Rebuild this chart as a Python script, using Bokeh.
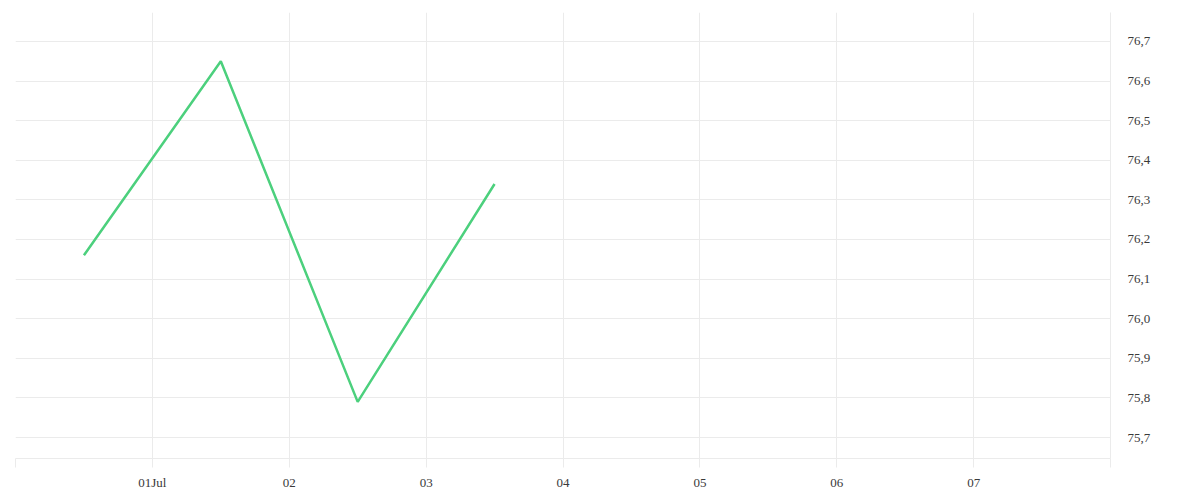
import pandas as pd
from bokeh.plotting import figure
from bokeh.models import FixedTicker, CustomJSTickFormatter, Range1d, LinearAxis
from bokeh.embed import file_html
from bokeh.resources import INLINE

# data
dates = ["2024-06-30 12:00", "2024-07-01 12:00", "2024-07-02 12:00", "2024-07-03 12:00"]
values = [76.16, 76.65, 75.79, 76.34]

x_tick_dates = ["2024-06-30", "2024-07-01", "2024-07-02", "2024-07-03", "2024-07-04",
                "2024-07-05", "2024-07-06", "2024-07-07", "2024-07-08"]
x_tick_labels = ["", "01Jul", "02", "03", "04", "05", "06", "07", ""]
y_ticks = [75.7, 75.8, 75.9, 76.0, 76.1, 76.2, 76.3, 76.4, 76.5, 76.6, 76.7]

x_start, x_end = "2024-06-30", "2024-07-08"
y_start, y_end = 75.647, 76.773

def ms(s):
    return pd.Timestamp(s).value / 1e6

xs = [ms(d) for d in dates]
xt = [ms(d) for d in x_tick_dates]

GRID = "#ebebeb"
FONT = "Liberation Serif"
TXT = "#3a3a3a"

p = figure(frame_width=1095, frame_height=446, x_axis_type="datetime",
           output_backend="svg", toolbar_location=None, y_axis_location=None,
           x_range=Range1d(ms(x_start), ms(x_end)), y_range=Range1d(y_start, y_end),
           min_border_left=15, min_border_top=12, min_border_right=82, min_border_bottom=34)
p.outline_line_color = None
p.background_fill_color = "white"
p.border_fill_color = "white"

yaxis = LinearAxis()
p.add_layout(yaxis, "right")

p.line(xs, values, line_color="#4cd07d", line_width=2.5)

xa = p.xaxis[0]
xa.ticker = FixedTicker(ticks=xt, minor_ticks=[])
xa.formatter = CustomJSTickFormatter(args=dict(tvals=xt, tlabels=x_tick_labels), code="""
const i = tvals.indexOf(tick);
return i >= 0 ? tlabels[i] : "";
""")
xa.axis_line_color = GRID
xa.major_tick_line_color = GRID
xa.major_tick_out = 9
xa.major_tick_in = 0
xa.minor_tick_line_color = None
xa.major_label_standoff = 7
xa.major_label_text_font = FONT
xa.major_label_text_font_size = "13px"
xa.major_label_text_color = TXT

yaxis.ticker = FixedTicker(ticks=y_ticks, minor_ticks=[])
yaxis.formatter = CustomJSTickFormatter(code="return tick.toFixed(1).replace('.', ',');")
yaxis.axis_line_color = GRID
yaxis.major_tick_line_color = None
yaxis.minor_tick_line_color = None
yaxis.major_tick_out = 0
yaxis.major_tick_in = 0
yaxis.major_label_standoff = 17
yaxis.major_label_text_font = FONT
yaxis.major_label_text_font_size = "13px"
yaxis.major_label_text_color = TXT

p.xgrid.ticker = xa.ticker
p.xgrid.grid_line_color = GRID
p.ygrid.ticker = yaxis.ticker
p.ygrid.grid_line_color = GRID

open("out.html", "w").write(file_html(p, INLINE))
